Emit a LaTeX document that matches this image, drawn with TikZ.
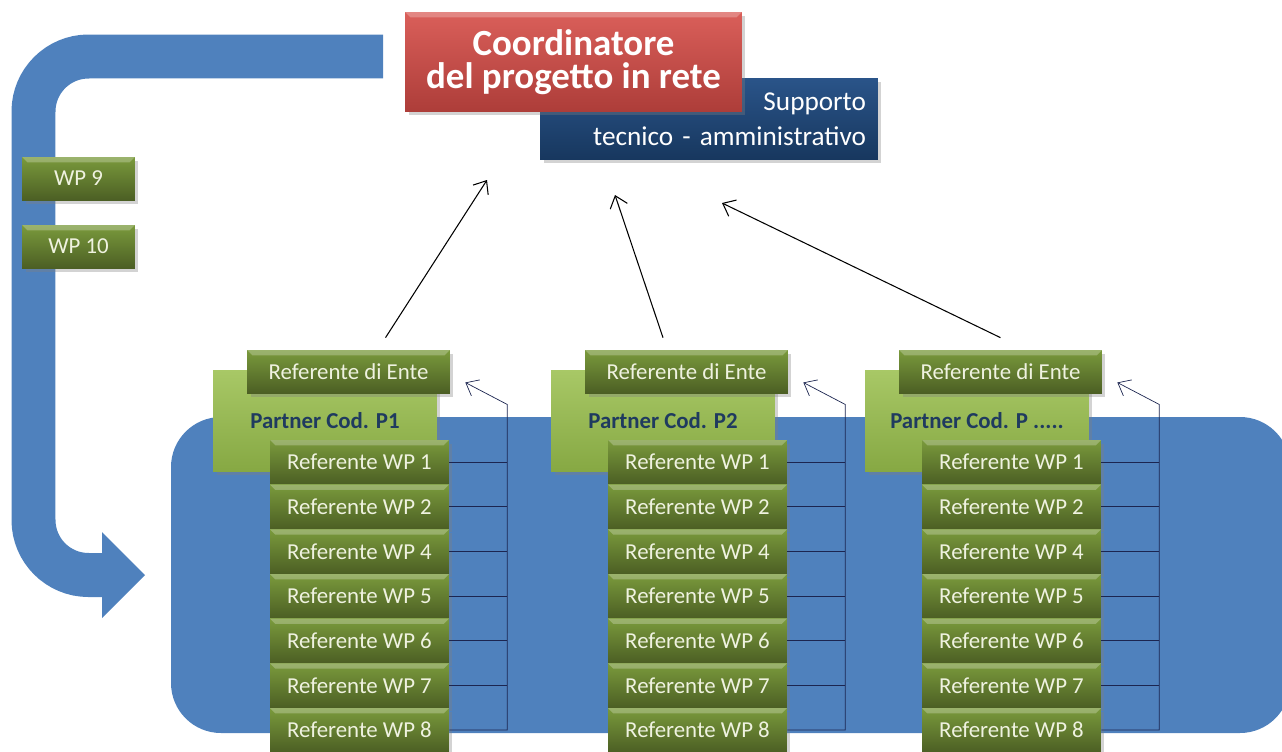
\documentclass[tikz,border=0pt]{standalone}
\usepackage{fontspec}
\setmainfont{Carlito}
\usetikzlibrary{calc,arrows.meta,shadows}
\definecolor{bandblue}{HTML}{4F81BD}
\definecolor{wpdark}{HTML}{4C5F24}
\definecolor{wplight}{HTML}{7A9A3C}
\definecolor{ptlight}{HTML}{A8C866}
\definecolor{ptdark}{HTML}{86A843}
\definecolor{redtop}{HTML}{DA5F5A}
\definecolor{redbot}{HTML}{AD3D39}
\definecolor{navytop}{HTML}{2A5489}
\definecolor{navybot}{HTML}{17375E}
\definecolor{ptext}{HTML}{1F3A5F}
\definecolor{wptext}{HTML}{EFF2E0}
\definecolor{fbcol}{HTML}{1C2550}
\newcommand{\pmore}{P .....}
\tikzset{
    bevel/.style = {path picture={
        \fill[white,opacity=.25] (path picture bounding box.north west) --
            (path picture bounding box.north east) --
            ([xshift=-3pt,yshift=-3pt]path picture bounding box.north east) --
            ([xshift=3pt,yshift=-3pt]path picture bounding box.north west) -- cycle;}},
    shade/.style = {drop shadow={opacity=.35,shadow xshift=.7mm,shadow yshift=-.7mm}},
    wpbox/.style = {rectangle, top color=wplight, bottom color=wpdark, bevel, shade,
        text=wptext, font=\fontsize{13}{15}\selectfont, inner sep=0pt,
        minimum width=3.58cm, minimum height=0.88cm},
    entebox/.style = {wpbox, minimum width=4.06cm, minimum height=0.86cm},
    sidebox/.style = {wpbox, minimum width=2.26cm, minimum height=0.86cm},
    partnerbox/.style = {rectangle, top color=ptlight, bottom color=ptdark, shade,
        text=ptext, font=\fontsize{13}{15}\selectfont\bfseries, inner sep=0pt,
        minimum width=4.48cm, minimum height=2.04cm},
    coordbox/.style = {rectangle, top color=redtop, bottom color=redbot, bevel, shade,
        text=white, font=\fontsize{21}{19}\selectfont\bfseries, align=center,
        inner sep=0pt, minimum width=6.74cm, minimum height=2cm},
    supportbox/.style = {rectangle, top color=navytop, bottom color=navybot, shade,
        text=white, font=\fontsize{15.5}{20}\selectfont, align=right,
        text width=6.28cm, inner xsep=0.24cm, minimum height=1.64cm},
    arrow/.style = {draw, -{Straight Barb[length=2.2mm,width=3.6mm]}, semithick},
    fbline/.style = {draw=fbcol, thin}
}

\begin{document}
\begin{tikzpicture}[x=0.02cm, y=-0.02cm]
                \useasboundingbox (0,0) rectangle (1282,751);
                \draw[bandblue, line width=0.88cm, rounded corners=1.1cm]
                    (383,56.5) -- (33.5,56.5) -- (33.5,575) -- (103,575);
                \fill[bandblue] (102,532) -- (145,575) -- (102,618) -- cycle;
                \fill[bandblue, rounded corners=1cm] (171,417) rectangle (1290,733);
                \node[sidebox] (wp9) at (78.5,178.5) {WP 9};
                \node[sidebox] (wp10) at (78.5,246.5) {WP 10};
                \node[supportbox] (supp) at (709,119) {Supporto\\tecnico - amministrativo};
                \node[coordbox] (coord) at (573.5,62) {Coordinatore\\del progetto in rete};
                \foreach \g/\o/\p in {1/0/P1, 2/338/P2, 3/652/\pmore} {
                    \node[partnerbox] (part\g) at (325+\o,421) {Partner Cod. \p};
                    \node[entebox] (ente\g) at (348.5+\o,371.5) {Referente di Ente};
                    \foreach \w [count=\i] in {1,2,4,5,6,7,8}
                        \node[wpbox] (wp\g-\w) at (359.5+\o,{462+44.67*(\i-1)}) {Referente WP \w};
                    \foreach \w in {1,2,4,5,6,7}
                        \draw[fbline] (wp\g-\w.east) -- ++(58,0);
                    \draw[fbline, -{Straight Barb[length=2.2mm,width=3.6mm]}] (wp\g-8.east) -- ++(58,0)
                        -- ($(ente\g.east)+(57,33)$) -- ($(ente\g.east)+(15,11)$);
                }
                \coordinate (tip1) at (487,180);
                \coordinate (tip2) at (615,195);
                \coordinate (tip3) at (722,203);
                \draw[arrow] ($(ente1.north)+(37,-12)$) -- (tip1);
                \draw[arrow] ($(ente2.north)+(-23.5,-12)$) -- (tip2);
                \draw[arrow] ($(ente3.north)+(0,-12)$) -- (tip3);
\end{tikzpicture}
\end{document}
